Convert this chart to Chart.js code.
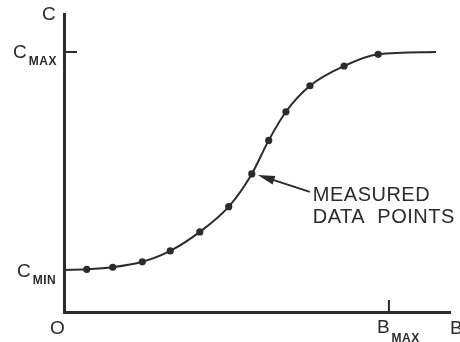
<!DOCTYPE html>
<html>
<head>
<meta charset="utf-8">
<script src="https://cdn.jsdelivr.net/npm/chart.js@4.4.1/dist/chart.umd.min.js"></script>
<style>
  html, body { margin: 0; padding: 0; background: #fff; }
  #wrap { width: 460px; height: 342px; position: relative; }
</style>
</head>
<body>
<div id="wrap"><canvas id="chart" width="460" height="342"></canvas></div>
<script>
// Measured data points (B along x, C along y, BMAX = 10, CMAX = 10)
const measuredB = [0.70, 1.50, 2.41, 3.27, 4.18, 5.07, 5.78, 6.30, 6.83, 7.57, 8.62, 9.67];
const measuredC = [1.64, 1.72, 1.93, 2.35, 3.08, 4.05, 5.31, 6.60, 7.70, 8.70, 9.46, 9.91];

// Where the fitted curve starts and ends
const curveStartB = 0;
const curveStartC = 1.615;
const curveEndB = 11.45;
const curveEndC = 10.0;

// Axis marks
const cMax = 10;
const cMin = 1.615;
const bMax = 10;
const bAxisMax = 11.88;
const cAxisMax = 11.46;

const ink = '#2b2b2b';
const font = '"Liberation Sans", Arial, sans-serif';

const points = measuredB.map((b, i) => ({ x: b, y: measuredC[i] }));
const curve = [{ x: curveStartB, y: curveStartC }, ...points, { x: curveEndB, y: curveEndC }];

function label(ctx, main, sub, x, y, size, subSize, subDrop) {
    ctx.font = size + 'px ' + font;
    ctx.fillText(main, x, y);
    if (sub) {
        const w = ctx.measureText(main).width;
        ctx.font = 'bold ' + subSize + 'px ' + font;
        ctx.letterSpacing = '0.5px';
        ctx.fillText(sub, x + w + 2, y + subDrop);
        ctx.letterSpacing = '0px';
    }
}

const annotations = {
    id: 'annotations',
    afterDraw(chart) {
        const ctx = chart.ctx;
        const xs = chart.scales.x;
        const ys = chart.scales.y;
        const x0 = xs.getPixelForValue(0);
        const y0 = ys.getPixelForValue(0);

        ctx.save();
        ctx.strokeStyle = ink;
        ctx.fillStyle = ink;
        ctx.lineWidth = 2;

        // CMAX tick on the C axis
        const yMax = ys.getPixelForValue(cMax);
        ctx.beginPath();
        ctx.moveTo(x0, yMax);
        ctx.lineTo(x0 + 13, yMax);
        ctx.stroke();

        // BMAX tick on the B axis
        const xMax = xs.getPixelForValue(bMax);
        ctx.beginPath();
        ctx.moveTo(xMax, y0);
        ctx.lineTo(xMax, y0 - 12);
        ctx.stroke();

        // axis labels
        ctx.textBaseline = 'alphabetic';
        label(ctx, 'C', null, x0 - 22, chart.chartArea.top + 6, 19);
        label(ctx, 'C', 'MAX', x0 - 51, yMax + 6, 19, 12, 7);
        label(ctx, 'C', 'MIN', x0 - 47, ys.getPixelForValue(cMin) + 7, 19, 12, 7);
        label(ctx, 'O', null, x0 - 14, y0 + 22, 19);
        label(ctx, 'B', 'MAX', xMax - 12, y0 + 21, 19, 12, 9);
        label(ctx, 'B', null, chart.chartArea.right, y0 + 22, 19);

        // callout arrow to one measured point
        const tipX = xs.getPixelForValue(measuredB[6]) + 6;
        const tipY = ys.getPixelForValue(measuredC[6]) + 1;
        const tailX = tipX + 52;
        const tailY = tipY + 17;
        const ang = Math.atan2(tipY - tailY, tipX - tailX);
        ctx.beginPath();
        ctx.moveTo(tailX, tailY);
        ctx.lineTo(tipX + Math.cos(ang) * -12, tipY + Math.sin(ang) * -12);
        ctx.stroke();
        ctx.beginPath();
        ctx.moveTo(tipX, tipY);
        ctx.lineTo(tipX - 17 * Math.cos(ang) + 4.5 * Math.sin(ang), tipY - 17 * Math.sin(ang) - 4.5 * Math.cos(ang));
        ctx.lineTo(tipX - 17 * Math.cos(ang) - 4.5 * Math.sin(ang), tipY - 17 * Math.sin(ang) + 4.5 * Math.cos(ang));
        ctx.closePath();
        ctx.fill();

        ctx.font = '20px ' + font;
        ctx.letterSpacing = '0.5px';
        ctx.fillText('MEASURED', tailX + 3, tailY + 9);
        ctx.fillText('DATA  POINTS', tailX + 3, tailY + 31);
        ctx.letterSpacing = '0px';
        ctx.restore();
    }
};

new Chart(document.getElementById('chart'), {
    type: 'line',
    data: {
        datasets: [{
            label: 'curve',
            data: curve,
            borderColor: ink,
            borderWidth: 2,
            pointRadius: 0,
            cubicInterpolationMode: 'monotone',
            fill: false
        }, {
            label: 'measured',
            data: points,
            showLine: false,
            pointRadius: 3.6,
            pointBackgroundColor: ink,
            pointBorderColor: ink,
            pointBorderWidth: 0
        }]
    },
    options: {
        responsive: false,
        animation: false,
        devicePixelRatio: 1,
        layout: { padding: { left: 64, top: 14, right: 10, bottom: 30 } },
        plugins: { legend: { display: false }, tooltip: { enabled: false } },
        scales: {
            x: {
                type: 'linear',
                min: 0,
                max: bAxisMax,
                grid: { display: false, drawTicks: false },
                ticks: { display: false },
                border: { display: true, color: ink, width: 3 }
            },
            y: {
                type: 'linear',
                min: 0,
                max: cAxisMax,
                grid: { display: false, drawTicks: false },
                ticks: { display: false },
                border: { display: true, color: ink, width: 3 }
            }
        }
    },
    plugins: [annotations]
});
</script>
</body>
</html>
